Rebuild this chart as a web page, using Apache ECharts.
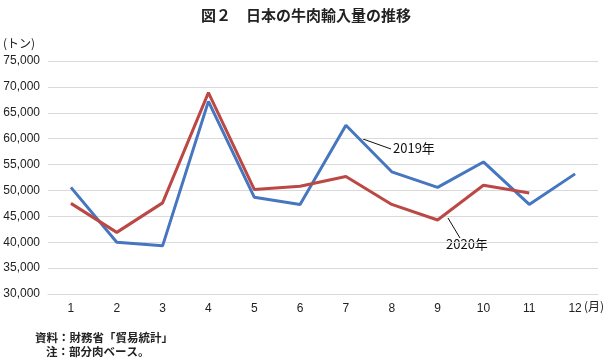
<!DOCTYPE html>
<html><head><meta charset="utf-8">
<script src="https://cdn.jsdelivr.net/npm/echarts@6/dist/echarts.min.js"></script>
<style>html,body{margin:0;padding:0;background:#fff}#c{width:612px;height:360px}</style>
</head><body><div id="c"></div>
<script>
var months = ['1','2','3','4','5','6','7','8','9','10','11','12'];
var y2019 = [50600, 40000, 39300, 67200, 48700, 47300, 62600, 53600, 50600, 55500, 47300, 53200];
var y2020 = [47500, 41900, 47600, 68900, 50200, 50800, 52700, 47300, 44300, 51000, 49500, null];
var yTicks = {min: 30000, max: 75000, step: 5000};
var title = '図２　日本の牛肉輸入量の推移';
var notes = ['資料：財務省「貿易統計」', '注：部分肉ベース。'];

var chart = echarts.init(document.getElementById('c'), null, {renderer: 'canvas'});
var jp = '"Noto Sans CJK JP", sans-serif';
chart.setOption({
  animation: false,
  backgroundColor: '#fff',
  title: {text: title, left: 'center', top: 3,
    textStyle: {fontFamily: jp, fontSize: 15, fontWeight: 'bold', color: '#222'}},
  grid: {left: 48, right: 14, top: 61, bottom: 66},
  xAxis: {type: 'category', data: months, boundaryGap: true,
    axisLine: {show: true, lineStyle: {color: '#d9d9d9'}},
    axisTick: {show: false},
    axisLabel: {color: '#222', fontSize: 12, margin: 9, fontFamily: 'Liberation Sans Narrow, Liberation Sans, sans-serif'}},
  yAxis: {type: 'value', min: yTicks.min, max: yTicks.max, interval: yTicks.step,
    axisLine: {show: false}, axisTick: {show: false},
    splitLine: {lineStyle: {color: '#d9d9d9', width: 1}},
    axisLabel: {color: '#222', fontSize: 12, margin: 8, fontFamily: 'Liberation Sans, Arial, sans-serif',
      formatter: function (v) { return v.toLocaleString('en-US'); }}},
  series: [
    {name: '2019年', type: 'line', data: y2019, symbol: 'none',
      lineStyle: {color: '#4676BF', width: 3}, itemStyle: {color: '#4676BF'}},
    {name: '2020年', type: 'line', data: y2020, symbol: 'none', connectNulls: false,
      lineStyle: {color: '#BB4845', width: 3}, itemStyle: {color: '#BB4845'}}
  ],
  graphic: [
    {type: 'text', left: 3, top: 37, style: {text: '(トン)', font: '12px ' + jp, fill: '#222'}},
    {type: 'text', left: 584, top: 300, style: {text: '(月)', font: '12px ' + jp, fill: '#222'}},
    {type: 'line', shape: {x1: 363, y1: 139, x2: 391, y2: 149}, style: {stroke: '#111', lineWidth: 1}},
    {type: 'text', left: 393, top: 142, style: {text: '2019年', font: '13px ' + jp, fill: '#111'}},
    {type: 'line', shape: {x1: 448, y1: 218, x2: 460, y2: 238}, style: {stroke: '#111', lineWidth: 1}},
    {type: 'text', left: 446, top: 238, style: {text: '2020年', font: '13px ' + jp, fill: '#111'}},
    {type: 'text', left: 35, top: 332, style: {text: notes[0], font: 'bold 11.5px ' + jp, fill: '#222'}},
    {type: 'text', left: 46, top: 346, style: {text: notes[1], font: 'bold 11.5px ' + jp, fill: '#222'}}
  ]
});
</script></body></html>
